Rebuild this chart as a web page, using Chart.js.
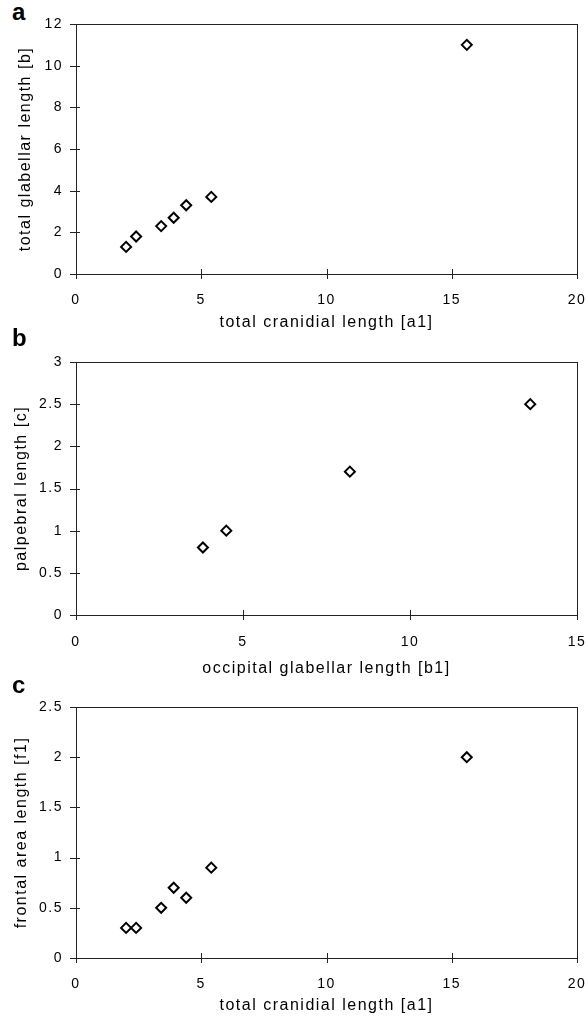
<!DOCTYPE html>
<html>
<head>
<meta charset="utf-8">
<script src="https://cdn.jsdelivr.net/npm/chart.js@4"></script>
<style>
  body { margin: 0; background: #fff; }
  #page { position: relative; width: 587px; height: 1020px; overflow: hidden; }
  canvas { position: absolute; left: 0; }
  .panel-label { position: absolute; left: 12px; font: bold 24px "Liberation Sans", Arial, sans-serif; line-height: 24px; color: #000; }
</style>
</head>
<body>
<div id="page">
  <div class="panel-label" style="top:0px">a</div>
  <canvas id="chartA" width="587" height="332" style="top:0px"></canvas>
  <div class="panel-label" style="top:326px">b</div>
  <canvas id="chartB" width="587" height="346" style="top:332px"></canvas>
  <div class="panel-label" style="top:673px">c</div>
  <canvas id="chartC" width="587" height="337" style="top:678px"></canvas>
</div>
<script>
// Datos (a): longitud craneal total vs longitud glabelar total
const aX = [2.0, 2.4, 3.4, 3.9, 4.4, 5.4, 15.6];
const aY = [1.3, 1.8, 2.3, 2.7, 3.3, 3.7, 11.0];

// (b): longitud glabelar occipital vs longitud palpebral
const bX = [3.8, 4.5, 8.2, 13.6];
const bY = [0.8, 1.0, 1.7, 2.5];

// (c): longitud craneal total vs longitud del área frontal
const cX = [2.0, 2.4, 3.4, 3.9, 4.4, 5.4, 15.6];
const cY = [0.3, 0.3, 0.5, 0.7, 0.6, 0.9, 2.0];

const FONT = '"Liberation Sans", Arial, Helvetica, sans-serif';

// Marco del área del gráfico y marcas de los ejes que cruzan la línea
const framePlugin = {
  id: 'frame',
  beforeDraw(chart) {
    chart.ctx.letterSpacing = '1.5px';
  },
  afterDatasetsDraw(chart) {
    const { ctx, chartArea: a, scales } = chart;
    ctx.save();
    ctx.strokeStyle = '#222';
    ctx.lineWidth = 1;
    ctx.strokeRect(Math.round(a.left) + 0.5, Math.round(a.top) + 0.5,
      Math.round(a.right - a.left), Math.round(a.bottom - a.top));
    ctx.beginPath();
    scales.x.ticks.forEach(t => {
      const px = Math.round(scales.x.getPixelForValue(t.value)) + 0.5;
      ctx.moveTo(px, a.bottom - 5);
      ctx.lineTo(px, a.bottom + 5);
    });
    scales.y.ticks.forEach(t => {
      const py = Math.round(scales.y.getPixelForValue(t.value)) + 0.5;
      ctx.moveTo(a.left - 6, py);
      ctx.lineTo(a.left + 4, py);
    });
    ctx.stroke();
    ctx.restore();
  }
};

function makePanel(id, xs, ys, cfg) {
  const points = xs.map((x, i) => ({ x: x, y: ys[i] }));
  return new Chart(document.getElementById(id), {
    type: 'scatter',
    data: {
      datasets: [{
        data: points,
        pointStyle: 'rectRot',
        pointRadius: 5,
        pointHoverRadius: 5,
        borderColor: '#000',
        backgroundColor: '#fff',
        borderWidth: 2
      }]
    },
    options: {
      responsive: false,
      animation: false,
      events: [],
      layout: { padding: { top: cfg.top, right: 10, left: 0, bottom: 0 } },
      plugins: { legend: { display: false }, tooltip: { enabled: false } },
      scales: {
        x: {
          min: 0, max: cfg.xMax,
          ticks: { stepSize: 5, color: '#000', padding: cfg.xPad, font: { family: FONT, size: 14 } },
          grid: { display: false, drawTicks: false },
          border: { display: false },
          title: { display: true, text: cfg.xTitle, color: '#000', padding: 0, font: { family: FONT, size: 16 } },
          afterFit(scale) {
            scale.height = cfg.xH;
            scale.paddingLeft = 0;
            scale.paddingRight = 0;
          }
        },
        y: {
          min: 0, max: cfg.yMax,
          ticks: {
            stepSize: cfg.yStep, color: '#000', padding: 13, font: { family: FONT, size: 14 },
            callback: v => String(v)
          },
          grid: { display: false, drawTicks: false },
          border: { display: false },
          title: { display: true, text: cfg.yTitle, color: '#000', padding: { top: cfg.yTitleTop, bottom: 0 }, font: { family: FONT, size: 16 } },
          afterFit(scale) {
            scale.width = 76;
            scale.paddingTop = 0;
            scale.paddingBottom = 0;
          }
        }
      }
    },
    plugins: [framePlugin]
  });
}

makePanel('chartA', aX, aY, {
  top: 24, xH: 58, xPad: 18, xMax: 20, yMax: 12, yStep: 2, yTitleTop: 16,
  xTitle: 'total cranidial length [a1]', yTitle: 'total glabellar length [b]'
});
makePanel('chartB', bX, bY, {
  top: 30, xH: 63, xPad: 19, xMax: 15, yMax: 3, yStep: 0.5, yTitleTop: 12,
  xTitle: 'occipital glabellar length [b1]', yTitle: 'palpebral length [c]'
});
makePanel('chartC', cX, cY, {
  top: 29, xH: 57, xPad: 18, xMax: 20, yMax: 2.5, yStep: 0.5, yTitleTop: 12,
  xTitle: 'total cranidial length [a1]', yTitle: 'frontal area length [f1]'
});
</script>
</body>
</html>
